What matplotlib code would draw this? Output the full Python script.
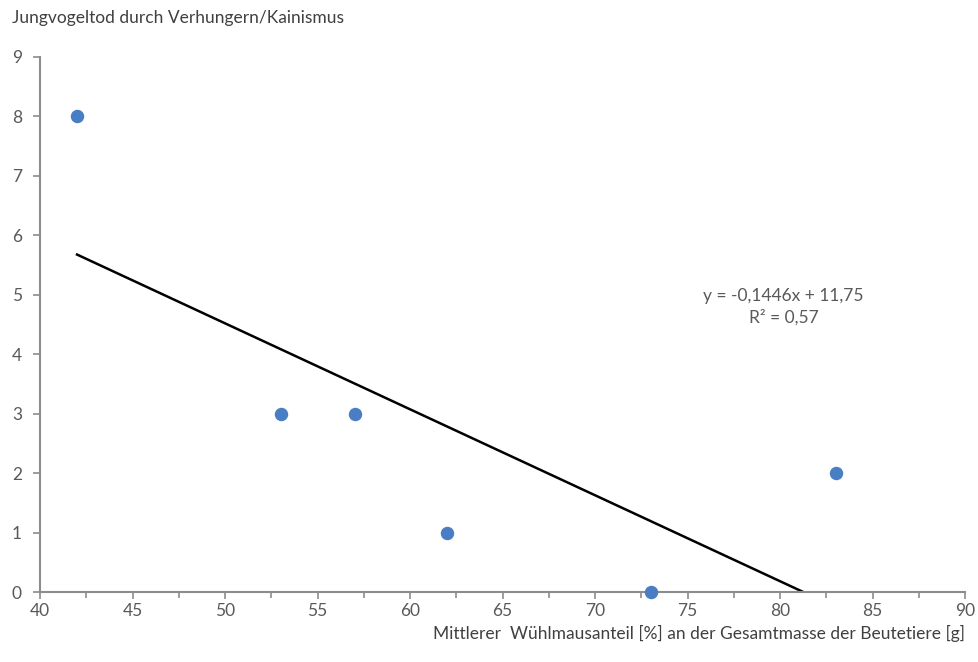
import matplotlib.pyplot as plt
import numpy as np

plt.rcParams['font.family'] = ['Lato', 'DejaVu Sans']

wuehlmaus = [42, 53, 57, 62, 73, 83]
jungvogeltod = [8, 3, 3, 1, 0, 2]

slope = -0.1446
intercept = 11.75
r2 = 0.57

fig = plt.figure(figsize=(9.79, 6.62), dpi=100)
ax = fig.add_axes([0.0409, 0.1057, 0.9448, 0.8082])

# linear trend, cut off where it reaches y = 0
x_end = -intercept / slope
xt = np.array([min(wuehlmaus), x_end])
ax.plot(xt, slope * xt + intercept, color='black', linewidth=1.8, zorder=2)

ax.scatter(wuehlmaus, jungvogeltod, s=75, color='#4a7ec4', zorder=3, clip_on=False)

ax.set_xlim(40, 90)
ax.set_ylim(0, 9)
ax.set_xticks(np.arange(40, 91, 5))
ax.set_xticks(np.arange(40, 91, 2.5), minor=True)
ax.set_yticks(np.arange(0, 10, 1))

grey = '#8c8c8c'
for side in ['top', 'right']:
    ax.spines[side].set_visible(False)
for side in ['left', 'bottom']:
    ax.spines[side].set_color(grey)
    ax.spines[side].set_linewidth(1.5)

ax.tick_params(axis='both', which='both', direction='out', color=grey,
               width=1.2, labelcolor='#595959', labelsize=12.5)
ax.tick_params(axis='both', which='major', length=5)
ax.tick_params(axis='x', which='minor', length=4)
ax.tick_params(axis='x', pad=3)
ax.tick_params(axis='y', pad=8)

ax.text(80.2, 4.8, f'y = {slope:.4f}x + {intercept:.2f}\nR² = {r2:.2f}'.replace('.', ','),
        ha='center', va='center', fontsize=12.5, color='#595959', linespacing=1.4)

fig.text(12 / 979, 1 - 18 / 662, 'Jungvogeltod durch Verhungern/Kainismus',
         ha='left', va='center', fontsize=12.5, color='#404040')
fig.text(965 / 979, 1 - 633 / 662,
         'Mittlerer  Wühlmausanteil [%] an der Gesamtmasse der Beutetiere [g]',
         ha='right', va='center', fontsize=12.5, color='#404040')

fig.savefig('out.png', dpi=100)
